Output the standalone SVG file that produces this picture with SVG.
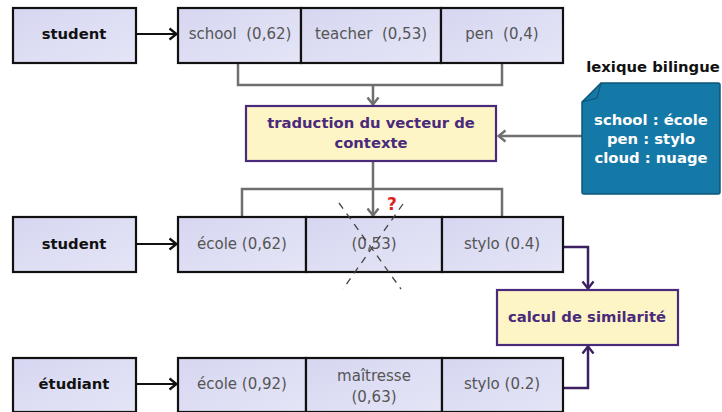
<svg xmlns="http://www.w3.org/2000/svg" width="722" height="412" viewBox="0 0 722 412">
<style>
.cell{fill:url(#cellg);stroke:#111;stroke-width:2.2}
.lbl{font-family:"DejaVu Sans",Verdana,sans-serif;font-size:14.8px;font-weight:bold;fill:#111;text-anchor:middle}
.val{font-family:"DejaVu Sans",Verdana,sans-serif;font-size:15px;fill:#555;text-anchor:middle}
.proc{fill:#fdf5c6;stroke:#4a2a7a;stroke-width:2.2}
.ptxt{font-family:"DejaVu Sans",Verdana,sans-serif;font-size:14.8px;font-weight:bold;fill:#4a2a7a;text-anchor:middle}
.ntxt{font-family:"DejaVu Sans",Verdana,sans-serif;font-size:14.8px;font-weight:bold;fill:#ffffff;text-anchor:middle}
.k{fill:none;stroke:#111;stroke-width:2.2}
.g{fill:none;stroke:#6f6f6f;stroke-width:2.5}
.p{fill:none;stroke:#3c2060;stroke-width:2.5}
.x{fill:none;stroke:#444;stroke-width:1.3;stroke-dasharray:7,6}
</style>
<defs>
<linearGradient id="cellg" x1="0" y1="0" x2="1" y2="1">
<stop offset="0" stop-color="#d6d6f1"/>
<stop offset="1" stop-color="#e5e5f7"/>
</linearGradient>
<marker id="ak" viewBox="0 0 10 14" refX="9" refY="7" markerWidth="10" markerHeight="15" markerUnits="userSpaceOnUse" orient="auto">
<path d="M1.5,1.5 L8.5,7 L1.5,12.5" fill="none" stroke="#111" stroke-width="2.4"/>
</marker>
<marker id="ag" viewBox="0 0 10 14" refX="9" refY="7" markerWidth="10" markerHeight="16" markerUnits="userSpaceOnUse" orient="auto">
<path d="M1.5,1.5 L8.5,7 L1.5,12.5" fill="none" stroke="#6f6f6f" stroke-width="2.4"/>
</marker>
<marker id="ap" viewBox="0 0 10 14" refX="9" refY="7" markerWidth="10" markerHeight="16" markerUnits="userSpaceOnUse" orient="auto">
<path d="M1.5,1.5 L8.5,7 L1.5,12.5" fill="none" stroke="#3c2060" stroke-width="2.4"/>
</marker>
</defs>
<rect width="722" height="412" fill="#ffffff"/>

<g id="connectors">
<path class="k" d="M136,34 H177" marker-end="url(#ak)"/>
<path class="k" d="M136,244 H177" marker-end="url(#ak)"/>
<path class="k" d="M136,384 H177" marker-end="url(#ak)"/>
<path class="g" d="M238,63 V85 H502 V63"/>
<path class="g" d="M373,85 V105" marker-end="url(#ag)"/>
<path class="g" d="M582,136 H498" marker-end="url(#ag)"/>
<path class="g" d="M242,217 V189 H502 V217"/>
<path class="g" d="M373,161 V216" marker-end="url(#ag)"/>
<path class="p" d="M563,247 H588 V289" marker-end="url(#ap)"/>
<path class="p" d="M563,388 H588 V346" marker-end="url(#ap)"/>
</g>

<g id="row1-word">
<rect class="cell" x="13" y="8" width="123" height="55"/>
<text class="lbl" x="74" y="39">student</text>
</g>
<g id="row1-vector">
<rect class="cell" x="178" y="8" width="123" height="55"/>
<rect class="cell" x="301" y="8" width="140" height="55"/>
<rect class="cell" x="441" y="8" width="122" height="55"/>
<text class="val" x="240" y="39" xml:space="preserve">school  (0,62)</text>
<text class="val" x="371" y="39" xml:space="preserve">teacher  (0,53)</text>
<text class="val" x="502" y="39" xml:space="preserve">pen  (0,4)</text>
</g>

<g id="translation">
<rect class="proc" x="246" y="106" width="250" height="55"/>
<text class="ptxt" x="371" y="128">traduction du vecteur de</text>
<text class="ptxt" x="371" y="148">contexte</text>
</g>

<g id="lexique">
<text class="lbl" x="653" y="72">lexique bilingue</text>
<path d="M601,83 H718 Q720,83 720,85 V192 Q720,194 718,194 H584 Q582,194 582,192 V102 Z" fill="#1579a7" stroke="#0d5679" stroke-width="1.5"/>
<path d="M601,83 L597,98 L582,102" fill="none" stroke="#0d5679" stroke-width="1.2"/>
<text class="ntxt" x="651" y="125">school : école</text>
<text class="ntxt" x="651" y="144">pen : stylo</text>
<text class="ntxt" x="651" y="163">cloud : nuage</text>
</g>

<g id="row2-word">
<rect class="cell" x="13" y="217" width="123" height="55"/>
<text class="lbl" x="74" y="249">student</text>
</g>
<g id="row2-vector">
<rect class="cell" x="178" y="217" width="128" height="55"/>
<rect class="cell" x="306" y="217" width="136" height="55"/>
<rect class="cell" x="442" y="217" width="121" height="55"/>
<text class="val" x="242" y="249">école (0,62)</text>
<text class="val" x="374" y="249">(0,53)</text>
<text class="val" x="502" y="249">stylo (0.4)</text>
<path class="x" d="M339,203 L401,289"/>
<path class="x" d="M403,204 L343,289"/>
<text x="392" y="210" font-family="DejaVu Sans,sans-serif" font-size="17" font-weight="bold" fill="#e01e1e" text-anchor="middle">?</text>
</g>

<g id="similarity">
<rect class="proc" x="497" y="290" width="181" height="55"/>
<text class="ptxt" x="587" y="322">calcul de similarité</text>
</g>

<g id="row3-word">
<rect class="cell" x="13" y="358" width="123" height="54"/>
<text class="lbl" x="74" y="389">étudiant</text>
</g>
<g id="row3-vector">
<rect class="cell" x="178" y="358" width="128" height="54"/>
<rect class="cell" x="306" y="358" width="136" height="54"/>
<rect class="cell" x="442" y="358" width="121" height="54"/>
<text class="val" x="242" y="389">école (0,92)</text>
<text class="val" x="374" y="381">maîtresse</text>
<text class="val" x="374" y="402">(0,63)</text>
<text class="val" x="502" y="389">stylo (0.2)</text>
</g>
</svg>
